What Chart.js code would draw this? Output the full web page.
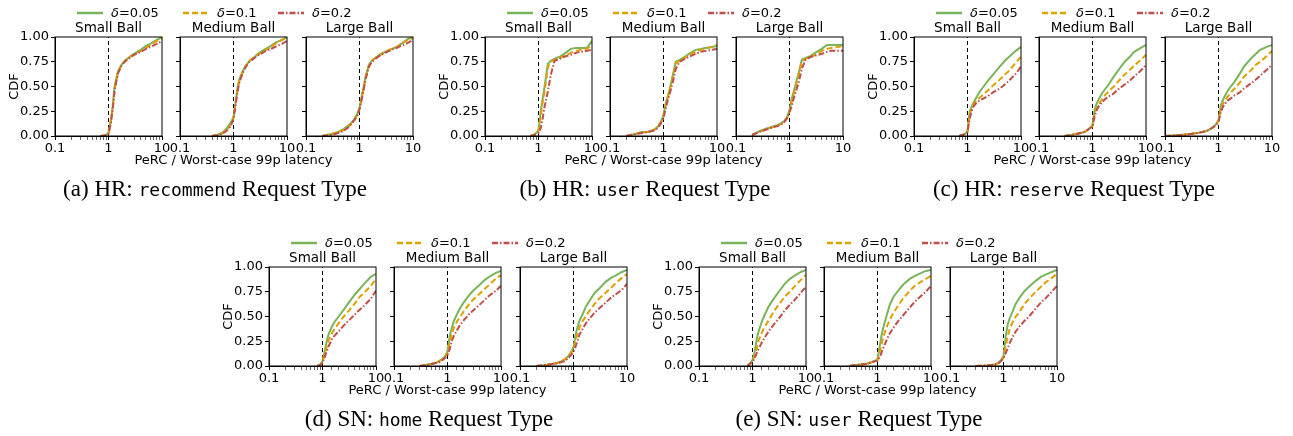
<!DOCTYPE html>
<html>
<head>
<meta charset="utf-8">
<script src="https://cdn.jsdelivr.net/npm/chart.js@4.4.1/dist/chart.umd.min.js"></script>
<style>
  body { margin: 0; background: #fff; }
  #page { position: relative; width: 1293px; height: 436px; overflow: hidden; font-family: "DejaVu Sans", sans-serif; }
  .plot { position: absolute; }
  .xlab { position: absolute; width: 260px; text-align: center; font-size: 13px; line-height: 15px; color: #000; }
  .cap { position: absolute; width: 460px; text-align: center; font-family: "Liberation Serif", serif; font-size: 23px; line-height: 26px; color: #000; }
  .cap code { font-family: "DejaVu Sans Mono", monospace; font-size: 18px; }
  .leg { position: absolute; font-size: 13px; line-height: 15px; color: #000; white-space: nowrap; }
  .leg svg { position: absolute; }
</style>
</head>
<body>
<div id="page"></div>
<script>
const _ = null;

// x positions (PeRC / worst-case 99p latency) where the CDF is read
const ratios = [0.1, 0.2, 0.3, 0.4, 0.5, 0.6, 0.7, 0.8, 0.9, 1, 1.1, 1.2, 1.3, 1.5, 1.7, 2, 2.5, 3, 4, 5, 6, 8, 10];
const deltaLabels = ["0.05", "0.1", "0.2"];
const xTickLabels = [0.1, 1, 10];
const yTicks = [0, 0.25, 0.5, 0.75, 1];
const ballTitles = ["Small Ball", "Medium Ball", "Large Ball"];

// each panel: rows are delta = 0.05, 0.1, 0.2
// (a) HR recommend
const recSmall = [
  [_,_,_,_,_,_,0,0.005,0.01,0.03,0.15,0.3,0.5,0.65,0.71,0.76,0.8,0.83,0.87,0.91,0.93,0.97,1.0],
  [_,_,_,_,_,_,0,0.004,0.01,0.03,0.14,0.29,0.48,0.64,0.70,0.75,0.8,0.82,0.86,0.89,0.92,0.96,0.99],
  [_,_,_,_,_,_,0,0.003,0.008,0.025,0.12,0.27,0.46,0.63,0.70,0.75,0.79,0.82,0.85,0.88,0.9,0.93,0.96]
];
const recMedium = [
  [_,_,_,0,0.01,0.03,0.06,0.1,0.14,0.19,0.35,0.5,0.58,0.66,0.71,0.76,0.8,0.84,0.88,0.91,0.94,0.97,1.0],
  [_,_,_,0,0.01,0.02,0.05,0.08,0.12,0.18,0.34,0.48,0.57,0.65,0.71,0.76,0.8,0.83,0.87,0.9,0.93,0.97,0.99],
  [_,_,_,0,0.008,0.02,0.04,0.07,0.11,0.17,0.32,0.46,0.55,0.64,0.7,0.75,0.79,0.82,0.86,0.88,0.9,0.93,0.96]
];
const recLarge = [
  [_,0,0.02,0.04,0.07,0.1,0.13,0.17,0.22,0.28,0.4,0.5,0.6,0.72,0.76,0.79,0.83,0.85,0.88,0.9,0.93,0.98,1.0],
  [_,0,0.02,0.04,0.06,0.09,0.12,0.16,0.21,0.27,0.39,0.49,0.59,0.71,0.76,0.79,0.82,0.85,0.88,0.9,0.93,0.97,0.99],
  [_,0,0.01,0.03,0.05,0.08,0.12,0.16,0.2,0.27,0.37,0.47,0.57,0.7,0.75,0.78,0.82,0.84,0.87,0.89,0.91,0.94,0.97]
];
// (b) HR user
const hrUserSmall = [
  [_,_,_,_,_,_,0,0.01,0.03,0.06,0.25,0.38,0.5,0.73,0.76,0.78,0.8,0.83,0.88,0.89,0.89,0.89,0.96],
  [_,_,_,_,_,_,0,0.01,0.02,0.05,0.2,0.35,0.45,0.7,0.75,0.77,0.79,0.81,0.84,0.86,0.87,0.88,0.92],
  [_,_,_,_,_,_,0,0.005,0.015,0.03,0.08,0.18,0.3,0.45,0.62,0.76,0.78,0.8,0.82,0.84,0.85,0.86,0.87]
];
const hrUserMedium = [
  [_,0,0.02,0.04,0.04,0.05,0.07,0.1,0.15,0.21,0.33,0.4,0.47,0.62,0.75,0.77,0.8,0.83,0.87,0.88,0.89,0.9,0.91],
  [_,0,0.02,0.04,0.04,0.05,0.07,0.1,0.14,0.2,0.31,0.39,0.46,0.6,0.74,0.76,0.79,0.82,0.85,0.87,0.88,0.9,0.92],
  [_,0,0.02,0.03,0.04,0.05,0.06,0.09,0.13,0.18,0.28,0.36,0.42,0.55,0.68,0.75,0.78,0.8,0.83,0.85,0.86,0.87,0.88]
];
const hrUserLarge = [
  [_,0.01,0.06,0.08,0.1,0.11,0.13,0.15,0.19,0.26,0.38,0.45,0.52,0.65,0.77,0.79,0.81,0.84,0.88,0.92,0.92,0.92,0.92],
  [_,0.01,0.05,0.08,0.09,0.11,0.12,0.15,0.18,0.25,0.35,0.43,0.5,0.63,0.75,0.78,0.8,0.82,0.86,0.88,0.89,0.9,0.91],
  [_,0.01,0.05,0.07,0.09,0.1,0.12,0.14,0.18,0.24,0.3,0.38,0.44,0.55,0.68,0.77,0.8,0.81,0.83,0.85,0.86,0.86,0.86]
];
// (c) HR reserve
const resSmall = [
  [_,_,_,_,_,_,0,0.01,0.02,0.05,0.25,0.3,0.34,0.4,0.45,0.5,0.57,0.62,0.7,0.76,0.8,0.86,0.9],
  [_,_,_,_,_,_,0,0.01,0.02,0.04,0.22,0.28,0.32,0.36,0.39,0.42,0.47,0.51,0.57,0.62,0.66,0.74,0.8],
  [_,_,_,_,_,_,0,0.01,0.02,0.04,0.18,0.25,0.3,0.34,0.36,0.38,0.41,0.44,0.48,0.52,0.56,0.63,0.7]
];
const resMedium = [
  [_,_,0,0.01,0.02,0.03,0.04,0.06,0.08,0.11,0.27,0.33,0.37,0.43,0.47,0.52,0.6,0.66,0.75,0.8,0.85,0.89,0.92],
  [_,_,0,0.01,0.02,0.03,0.04,0.06,0.08,0.1,0.23,0.29,0.32,0.37,0.41,0.45,0.5,0.55,0.62,0.67,0.71,0.77,0.82],
  [_,_,0,0.01,0.02,0.03,0.04,0.06,0.08,0.1,0.2,0.26,0.3,0.34,0.37,0.4,0.43,0.47,0.52,0.56,0.6,0.66,0.72]
];
const resLarge = [
  [0,0.01,0.02,0.03,0.04,0.05,0.07,0.09,0.12,0.16,0.3,0.36,0.4,0.46,0.5,0.55,0.63,0.7,0.78,0.83,0.87,0.9,0.92],
  [0,0.01,0.02,0.03,0.04,0.05,0.07,0.09,0.12,0.15,0.27,0.32,0.36,0.4,0.44,0.48,0.54,0.6,0.66,0.72,0.75,0.81,0.86],
  [0,0.01,0.02,0.03,0.04,0.05,0.07,0.09,0.11,0.14,0.24,0.29,0.32,0.36,0.38,0.41,0.44,0.48,0.53,0.57,0.61,0.67,0.72]
];
// (d) SN home
const homeSmall = [
  [_,_,_,_,_,_,_,0,0.01,0.05,0.15,0.25,0.32,0.4,0.45,0.5,0.57,0.63,0.72,0.78,0.83,0.9,0.93],
  [_,_,_,_,_,_,_,0,0.01,0.04,0.12,0.2,0.26,0.33,0.38,0.43,0.5,0.55,0.63,0.7,0.74,0.81,0.88],
  [_,_,_,_,_,_,_,0,0.01,0.03,0.09,0.15,0.2,0.27,0.31,0.35,0.41,0.45,0.52,0.57,0.61,0.68,0.76]
];
const homeMedium = [
  [_,_,0,0.01,0.02,0.03,0.05,0.07,0.1,0.15,0.3,0.38,0.45,0.52,0.58,0.64,0.71,0.76,0.82,0.87,0.9,0.94,0.96],
  [_,_,0,0.01,0.02,0.03,0.05,0.07,0.09,0.13,0.24,0.32,0.38,0.45,0.49,0.55,0.62,0.67,0.73,0.78,0.82,0.88,0.92],
  [_,_,0,0.01,0.02,0.03,0.04,0.06,0.08,0.11,0.17,0.25,0.3,0.36,0.41,0.46,0.52,0.56,0.62,0.67,0.71,0.76,0.81]
];
const homeLarge = [
  [_,0,0.01,0.02,0.03,0.05,0.07,0.1,0.14,0.19,0.32,0.4,0.46,0.53,0.6,0.66,0.74,0.78,0.85,0.89,0.91,0.95,0.97],
  [_,0,0.01,0.02,0.03,0.05,0.07,0.1,0.13,0.17,0.26,0.33,0.39,0.46,0.5,0.56,0.63,0.68,0.74,0.79,0.83,0.89,0.93],
  [_,0,0.01,0.02,0.03,0.04,0.05,0.08,0.11,0.14,0.2,0.26,0.32,0.38,0.43,0.48,0.54,0.58,0.64,0.69,0.72,0.77,0.83]
];
// (e) SN user
const snUserSmall = [
  [_,_,_,_,_,_,_,0,0.03,0.06,0.15,0.27,0.35,0.45,0.52,0.6,0.68,0.74,0.83,0.88,0.91,0.95,0.97],
  [_,_,_,_,_,_,_,0,0.02,0.05,0.1,0.18,0.26,0.34,0.4,0.46,0.55,0.61,0.7,0.75,0.8,0.87,0.92],
  [_,_,_,_,_,_,_,0,0.02,0.04,0.08,0.13,0.17,0.24,0.29,0.35,0.42,0.47,0.56,0.62,0.66,0.74,0.8]
];
const snUserMedium = [
  [_,_,0,0.01,0.015,0.02,0.03,0.04,0.05,0.07,0.2,0.32,0.4,0.52,0.62,0.7,0.77,0.82,0.88,0.91,0.93,0.96,0.97],
  [_,_,0,0.01,0.015,0.02,0.03,0.04,0.05,0.06,0.14,0.23,0.3,0.4,0.47,0.54,0.62,0.68,0.76,0.81,0.84,0.88,0.91],
  [_,_,0,0.01,0.015,0.02,0.03,0.04,0.05,0.05,0.09,0.14,0.19,0.27,0.33,0.39,0.46,0.51,0.59,0.65,0.69,0.75,0.81]
];
const snUserLarge = [
  [_,_,0,0.003,0.005,0.01,0.015,0.03,0.06,0.1,0.3,0.42,0.48,0.56,0.63,0.69,0.76,0.8,0.86,0.9,0.92,0.95,0.97],
  [_,_,0,0.003,0.005,0.01,0.015,0.03,0.05,0.09,0.2,0.3,0.37,0.45,0.5,0.55,0.63,0.68,0.75,0.8,0.84,0.89,0.93],
  [_,_,0,0.003,0.005,0.01,0.015,0.03,0.05,0.08,0.13,0.18,0.23,0.3,0.35,0.4,0.46,0.5,0.58,0.64,0.68,0.75,0.81]
];

const groups = [
  { left: 55,  top: 37,  panels: [recSmall, recMedium, recLarge],          cap: ["(a) HR: ", "recommend"] },
  { left: 485, top: 37,  panels: [hrUserSmall, hrUserMedium, hrUserLarge], cap: ["(b) HR: ", "user"] },
  { left: 914, top: 37,  panels: [resSmall, resMedium, resLarge],          cap: ["(c) HR: ", "reserve"] },
  { left: 269, top: 267, panels: [homeSmall, homeMedium, homeLarge],       cap: ["(d) SN: ", "home"] },
  { left: 699, top: 267, panels: [snUserSmall, snUserMedium, snUserLarge], cap: ["(e) SN: ", "user"] }
];

const lineStyles = [
  { color: "#79b45c", dash: [] },
  { color: "#dea000", dash: [6, 3] },
  { color: "#bf4f4b", dash: [6, 2, 1.5, 2] }
];

Chart.defaults.font.family = "DejaVu Sans";
Chart.defaults.color = "#000";

const frame = {
  id: "frame",
  afterDraw(chart) {
    const { ctx, chartArea: a } = chart;
    ctx.save();
    ctx.strokeStyle = "#000";
    ctx.lineWidth = 1;
    ctx.strokeRect(a.left, a.top, a.width, a.height);
    ctx.restore();
  }
};

const page = document.getElementById("page");
const offsets = [0, 125, 251];
const plotW = 107, plotH = 99;

function isDecade(v) {
  const l = Math.log10(v);
  return Math.abs(l - Math.round(l)) < 1e-6;
}

function makePlot(left, top, title, curves, firstCol) {
  const canvas = document.createElement("canvas");
  canvas.className = "plot";
  canvas.width = 50 + plotW + 12;
  canvas.height = 24 + plotH + 22;
  canvas.style.left = (left - 50) + "px";
  canvas.style.top = (top - 24) + "px";
  page.appendChild(canvas);

  const datasets = curves.map((vals, k) => ({
    label: "δ=" + deltaLabels[k],
    data: ratios.map((x, i) => ({ x: x, y: vals[i] })),
    borderColor: lineStyles[k].color,
    borderDash: lineStyles[k].dash,
    borderWidth: 2,
    pointRadius: 0,
    tension: 0,
    spanGaps: false,
    order: 2 - k
  }));
  datasets.push({
    label: "worst-case",
    data: [{ x: 1, y: 0 }, { x: 1, y: 1 }],
    borderColor: "#000",
    borderDash: [4, 3],
    borderWidth: 1,
    pointRadius: 0,
    order: 3
  });

  new Chart(canvas, {
    type: "line",
    data: { datasets },
    options: {
      responsive: false,
      animation: false,
      devicePixelRatio: 1,
      layout: { padding: { left: 0, right: 12, top: 0, bottom: 0 } },
      plugins: {
        legend: { display: false },
        tooltip: { enabled: false },
        title: {
          display: true, text: title, fullSize: false,
          font: { size: 13.5, weight: "normal" }, color: "#000",
          padding: { top: 7.8, bottom: 0 }
        }
      },
      scales: {
        x: {
          type: "logarithmic", min: 0.1, max: 10,
          ticks: {
            autoSkip: false, maxRotation: 0, padding: 1, color: "#000",
            font: { size: 13 },
            callback: v => (isDecade(v) && xTickLabels.some(t => Math.abs(t - v) < 1e-9)) ? String(+v.toPrecision(3)) : ""
          },
          grid: {
            drawOnChartArea: false, tickLength: 4, color: "#000",
            tickWidth: c => (c.tick && isDecade(c.tick.value)) ? 1 : 0.6
          },
          border: { color: "#000", width: 1 },
          afterFit(s) { s.height = 22; }
        },
        y: {
          min: 0, max: 1,
          afterBuildTicks(s) { s.ticks = yTicks.map(v => ({ value: v })); },
          ticks: { display: firstCol, padding: 2, color: "#000", font: { size: 13 }, callback: v => v.toFixed(2) },
          grid: { drawOnChartArea: false, tickLength: 4, color: "#000" },
          border: { color: "#000", width: 1 },
          title: { display: firstCol, text: "CDF", color: "#000", font: { size: 13 }, padding: { top: 2, bottom: 0 } },
          afterFit(s) { s.width = 50; }
        }
      }
    },
    plugins: [frame]
  });
}

function legendSwatch(k) {
  const s = lineStyles[k];
  const dash = s.dash.length ? ` stroke-dasharray="${s.dash.join(" ")}"` : "";
  return `<svg width="26" height="6" style="left:0;top:5px"><line x1="0" y1="3" x2="26" y2="3" stroke="${s.color}" stroke-width="2.5"${dash}/></svg>`;
}

groups.forEach(g => {
  g.panels.forEach((curves, j) => {
    makePlot(g.left + offsets[j], g.top, ballTitles[j], curves, j === 0);
  });

  // legend above the three panels
  const legX = [22, 128, 223];
  deltaLabels.forEach((d, k) => {
    const item = document.createElement("div");
    item.className = "leg";
    item.style.left = (g.left + legX[k]) + "px";
    item.style.top = (g.top - 32) + "px";
    item.innerHTML = legendSwatch(k) + `<span style="position:absolute;left:34px;top:0"><i>δ</i>=${d}</span>`;
    page.appendChild(item);
  });

  // shared x label under the middle panel
  const xl = document.createElement("div");
  xl.className = "xlab";
  xl.style.left = (g.left + offsets[1] + plotW / 2 - 130) + "px";
  xl.style.top = (g.top + plotH + 16) + "px";
  xl.textContent = "PeRC / Worst-case 99p latency";
  page.appendChild(xl);

  // sub-figure caption
  const cap = document.createElement("div");
  cap.className = "cap";
  cap.style.left = (g.left + 160 - 230) + "px";
  cap.style.top = (g.top + 139) + "px";
  cap.innerHTML = `${g.cap[0]}<code>${g.cap[1]}</code> Request Type`;
  page.appendChild(cap);
});
</script>
</body>
</html>
